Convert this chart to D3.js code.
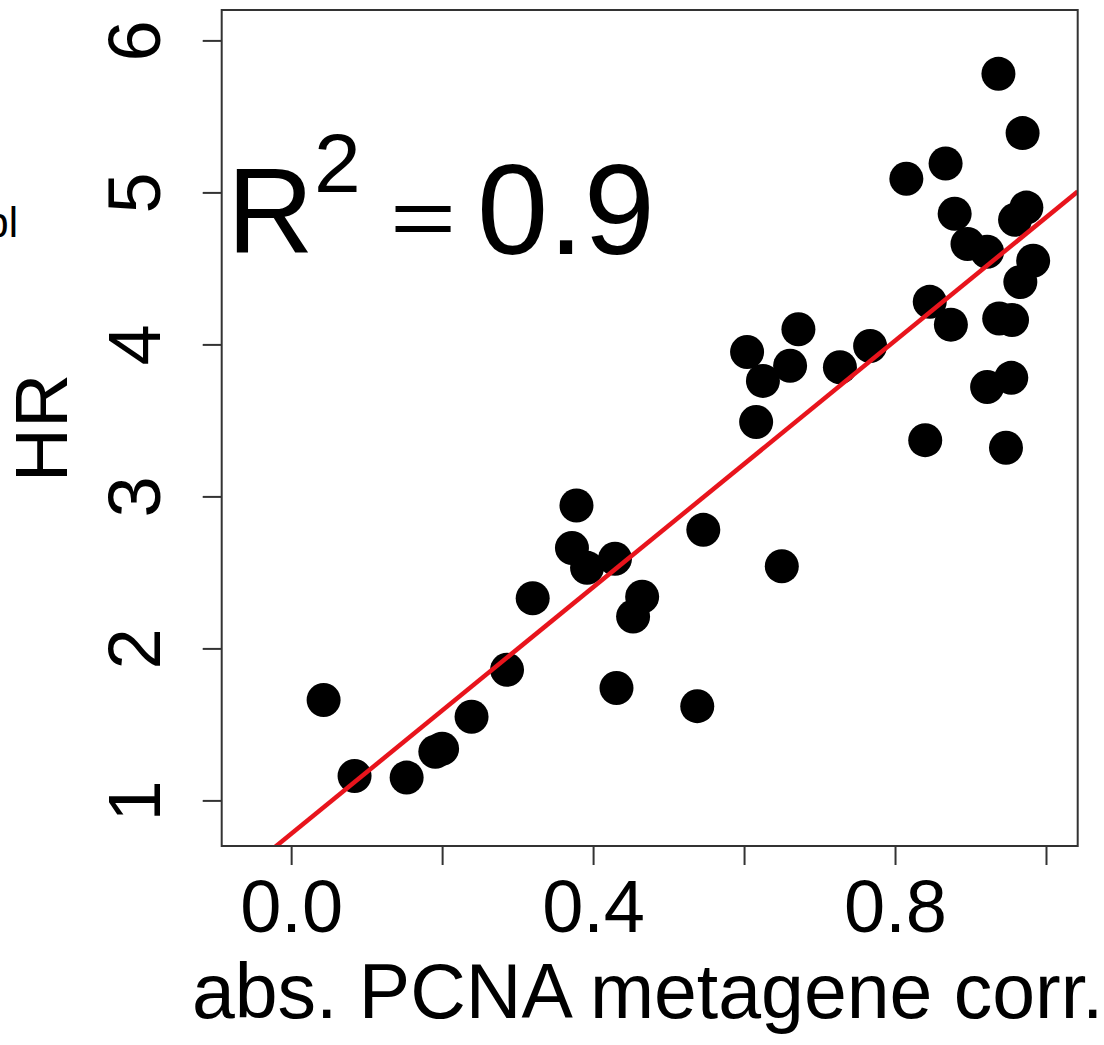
<!DOCTYPE html>
<html>
<head>
<meta charset="utf-8">
<script src="https://cdn.jsdelivr.net/npm/d3@7"></script>
<style>
  html, body { margin: 0; padding: 0; background: #fff; }
  svg { display: block; }
  text { font-family: "Liberation Sans", Arial, Helvetica, sans-serif; fill: #000; }
</style>
</head>
<body>
<svg id="chart" width="1104" height="1045"></svg>
<script>
// Absolute correlation of each signature with the PCNA metagene
const corrValues = [
  0.043, 0.084, 0.153, 0.191, 0.200, 0.239, 0.286, 0.320, 0.372, 0.378,
  0.392, 0.429, 0.431, 0.453, 0.465, 0.538, 0.546, 0.604, 0.616, 0.625,
  0.650, 0.661, 0.672, 0.727, 0.767, 0.815, 0.840, 0.846, 0.867, 0.874,
  0.879, 0.896, 0.922, 0.922, 0.937, 0.938, 0.947, 0.954, 0.955, 0.959,
  0.966, 0.969, 0.974, 0.983
];
// Hazard ratio of each signature
const hrValues = [
  1.66, 1.16, 1.15, 1.32, 1.34, 1.55, 1.86, 2.33, 2.66, 2.94,
  2.53, 2.59, 1.74, 2.21, 2.34, 1.62, 2.78, 3.95, 3.49, 3.76,
  2.54, 3.86, 4.10, 3.85, 3.99, 5.09, 3.37, 4.28, 5.19, 4.13,
  4.86, 4.66, 4.61, 3.72, 5.78, 4.17, 3.32, 3.78, 4.16, 4.82,
  4.41, 5.39, 4.90, 4.55
];
// Least-squares fit: HR = intercept + slope * corr
const fitIntercept = 0.78;
const fitSlope = 4.055;
const rSquaredLabel = "0.9";

const xTicks = [0, 0.2, 0.4, 0.6, 0.8, 1.0];
const xTickLabels = ["0.0", "", "0.4", "", "0.8", ""];
const yTicks = [1, 2, 3, 4, 5, 6];
const yTickLabels = ["1", "2", "3", "4", "5", "6"];
const xTitle = "abs. PCNA metagene corr.";
const yTitle = "HR";
const marginNote = "bl";

const points = corrValues.map((c, i) => ({ x: c, y: hrValues[i] }));

const svg = d3.select("#chart");
const box = { left: 221.7, right: 1077.7, top: 10, bottom: 846 };

const x = d3.scaleLinear().domain([-0.092, 1.042]).range([box.left, box.right]);
const y = d3.scaleLinear().domain([0.70, 6.20]).range([box.bottom, box.top]);

svg.append("defs").append("clipPath").attr("id", "plotClip")
  .append("rect")
  .attr("x", box.left).attr("y", box.top)
  .attr("width", box.right - box.left).attr("height", box.bottom - box.top);

// Points
svg.append("g")
  .selectAll("circle")
  .data(points)
  .join("circle")
  .attr("cx", d => x(d.x))
  .attr("cy", d => y(d.y))
  .attr("r", 17)
  .attr("fill", "#000");

// Regression line across the full plotting region
const xs = x.domain();
svg.append("line")
  .attr("clip-path", "url(#plotClip)")
  .attr("x1", x(xs[0])).attr("y1", y(fitIntercept + fitSlope * xs[0]))
  .attr("x2", x(xs[1])).attr("y2", y(fitIntercept + fitSlope * xs[1]))
  .attr("stroke", "#e8141c")
  .attr("stroke-width", 4.5);

// Plot frame
svg.append("rect")
  .attr("x", box.left).attr("y", box.top)
  .attr("width", box.right - box.left).attr("height", box.bottom - box.top)
  .attr("fill", "none").attr("stroke", "#333").attr("stroke-width", 2);

// X axis
const xAxis = svg.append("g")
  .attr("transform", `translate(0,${box.bottom})`)
  .call(d3.axisBottom(x).tickValues(xTicks).tickSize(19).tickSizeOuter(0)
    .tickFormat((d, i) => xTickLabels[i]));
xAxis.select(".domain").remove();
xAxis.selectAll(".tick line").attr("stroke", "#333").attr("stroke-width", 2);
xAxis.selectAll(".tick text")
  .attr("y", 86).attr("dy", null)
  .attr("font-size", 74).attr("fill", "#000")
  .style("font-family", "'Liberation Sans', Arial, Helvetica, sans-serif");

// Y axis
const yAxis = svg.append("g")
  .attr("transform", `translate(${box.left},0)`)
  .call(d3.axisLeft(y).tickValues(yTicks).tickSize(19).tickSizeOuter(0)
    .tickFormat((d, i) => yTickLabels[i]));
yAxis.select(".domain").remove();
yAxis.selectAll(".tick line").attr("stroke", "#333").attr("stroke-width", 2);
yAxis.selectAll(".tick text")
  .attr("x", null).attr("dy", null)
  .attr("transform", "translate(-62,0) rotate(-90)")
  .attr("text-anchor", "middle")
  .attr("font-size", 74).attr("fill", "#000")
  .style("font-family", "'Liberation Sans', Arial, Helvetica, sans-serif");

// Axis titles
svg.append("text")
  .attr("x", (box.left + box.right) / 2 - 2).attr("y", 1018)
  .attr("text-anchor", "middle").attr("font-size", 77)
  .text(xTitle);

svg.append("text")
  .attr("transform", `translate(67,${(box.top + box.bottom) / 2}) rotate(-90)`)
  .attr("text-anchor", "middle").attr("font-size", 75)
  .text(yTitle);

// R-squared annotation
const ann = svg.append("g");
ann.append("text").attr("x", 227).attr("y", 253).attr("font-size", 120).text("R");
ann.append("text").attr("x", 314).attr("y", 192).attr("font-size", 84).text("2");
ann.append("text")
  .attr("transform", "translate(390,246) scale(1.4,1)")
  .attr("font-size", 81).text("=");
ann.append("text").attr("x", 477).attr("y", 254).attr("font-size", 128).text(rSquaredLabel);

// Clipped fragment of neighbouring panel text
svg.append("text")
  .attr("x", 18).attr("y", 237)
  .attr("text-anchor", "end").attr("font-size", 42)
  .text(marginNote);
</script>
</body>
</html>
